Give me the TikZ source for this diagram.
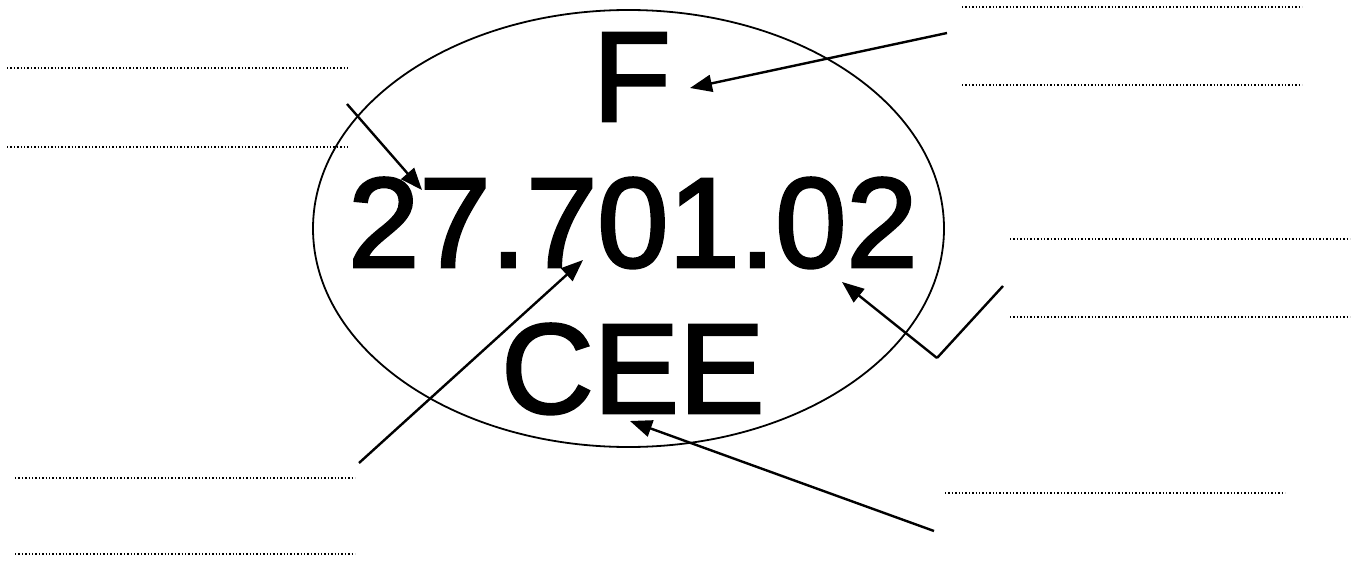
\documentclass[tikz,border=0pt]{standalone}
\usepackage{fontspec}
\setmainfont{Liberation Sans}
\newfontfamily\bigfont{Liberation Sans}[FakeBold=2.2]
\usetikzlibrary{arrows.meta}
\begin{document}
\begin{tikzpicture}[x=1pt,y=-1pt,
  bigtext/.style={inner sep=0pt,anchor=base west,font=\bigfont\fontsize{128}{128}\selectfont},
  pointer/.style={line width=2.4pt,-{Triangle[length=22pt,width=17pt]}},
  plainline/.style={line width=2.4pt},
  dotline/.style={line width=1.5pt,dash pattern=on 1.3pt off 2.1pt},
  oval/.style={line width=1.8pt}]
\useasboundingbox (0,0) rectangle (1359,567);
% ellipse
\draw[oval] (628.5,228.5) ellipse [x radius=315.5, y radius=218.5];
% texts
\node[bigtext] (F) at (592.5,121) {F};
\node[bigtext] (num) at (348,267) {27.701.02};
\node[bigtext] (cee) at (501,413) {CEE};
% dotted lines
\draw[dotline] (7,68) -- (348,68);
\draw[dotline] (7,147) -- (348,147);
\draw[dotline] (15,478) -- (355,478);
\draw[dotline] (15,554) -- (355,554);
\draw[dotline] (962,7) -- (1302,7);
\draw[dotline] (962,85) -- (1302,85);
\draw[dotline] (1010,239) -- (1350,239);
\draw[dotline] (1010,317) -- (1350,317);
\draw[dotline] (945,493) -- (1285,493);
% arrow coordinates
\coordinate (sF) at (947,33);
\coordinate (tF) at (690,88);
\coordinate (s2) at (347,104);
\coordinate (t2) at (422,190);
\coordinate (s7) at (359,463);
\coordinate (t7) at (583,260);
\coordinate (s02) at (1003,286);
\coordinate (v02) at (937,358);
\coordinate (t02) at (842,282);
\coordinate (sC) at (934,531);
\coordinate (tC) at (630,421);
% arrows
\draw[pointer] (sF) -- (tF);
\draw[pointer] (s2) -- (t2);
\draw[pointer] (s7) -- (t7);
\draw[plainline] (s02) -- (v02);
\draw[pointer] (v02) -- (t02);
\draw[pointer] (sC) -- (tC);
\end{tikzpicture}
\end{document}
